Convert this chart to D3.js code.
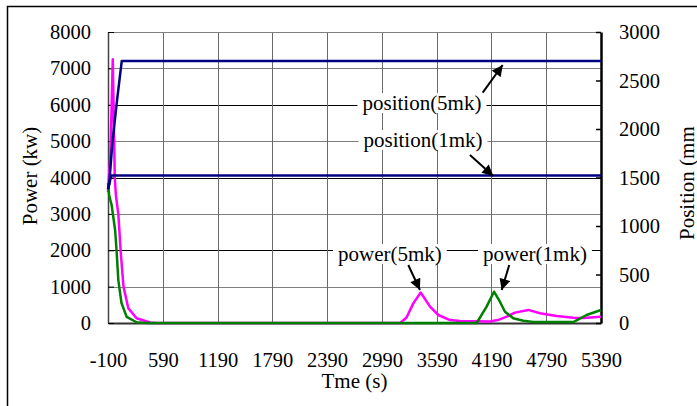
<!DOCTYPE html>
<meta charset="utf-8">
<style>
    body {
        margin: 0;
        background-color: #fff;
    }

    text {
        font-family: "Liberation Serif", "Times New Roman", serif;
        font-size: 21px;
        fill: #000;
    }

    .line {
        fill: none;
        stroke-width: 2.5px;
        stroke-linejoin: round;
    }
</style>

<body>
    <svg width="697" height="406"></svg>
</body>
<script src="https://cdnjs.cloudflare.com/ajax/libs/d3/7.8.5/d3.min.js"></script>
<script>
    // tick labels of the time axis (they are evenly spaced on the chart)
    var timeTicks = [-100, 590, 1190, 1790, 2390, 2990, 3590, 4190, 4790, 5390];
    var powerTicks = [0, 1000, 2000, 3000, 4000, 5000, 6000, 7000, 8000];
    var positionTicks = [0, 500, 1000, 1500, 2000, 2500, 3000];

    // [time (s), power (kw)]
    var power5mk = [
        [-100, 3600], [-70, 4600], [-40, 7250], [-15, 4000], [0, 3500], [30, 3000],
        [60, 1960], [95, 1000], [155, 410], [260, 130], [430, 15], [520, 0],
        [3190, 0], [3260, 150], [3334, 540], [3415, 840], [3517, 450], [3608, 220],
        [3736, 80], [3846, 55], [4028, 45], [4174, 40], [4260, 80], [4357, 175],
        [4448, 285], [4594, 360], [4722, 270], [4904, 190], [5086, 145], [5196, 135],
        [5390, 175]
    ];
    var power1mk = [
        [-100, 3850], [-85, 3500], [-55, 3250], [-10, 2550], [10, 1920], [30, 1180],
        [70, 550], [135, 170], [260, 20], [390, 0],
        [4028, 0], [4137, 450], [4218, 860], [4283, 585], [4338, 310], [4429, 130],
        [4539, 60], [4648, 25], [5086, 25], [5232, 220], [5390, 357]
    ];

    // [time (s), position (mm)]
    var position5mk = [[-100, 1380], [-84, 1440], [-46, 1850], [10, 2270], [73, 2700], [5390, 2700]];
    var position1mk = [[-100, 1380], [-84, 1430], [-60, 1520], [5390, 1520]];

    // callouts: label at [time, power], arrow from [time, power] to [time, power]
    var callouts = [
        { label: "position(5mk)", at: [3429, 5855], from: [4094, 6331], to: [4313, 7093] },
        { label: "position(1mk)", at: [3440, 4838], from: [3955, 4618], to: [4210, 4041] },
        { label: "power(5mk)", at: [3078, 1704], from: [3279, 1594], to: [3407, 907] },
        { label: "power(1mk)", at: [4667, 1704], from: [4385, 1594], to: [4302, 907] }
    ];

    var svg = d3.select("svg"),
        margin = { top: 32, right: 96, bottom: 83, left: 108 },
        width = +svg.attr("width") - margin.left - margin.right,
        height = +svg.attr("height") - margin.top - margin.bottom;

    // outer frame
    svg.append("rect")
        .attr("x", 7.5)
        .attr("y", 6.5)
        .attr("width", 720)
        .attr("height", 420)
        .attr("fill", "none")
        .attr("stroke", "#000")
        .attr("stroke-width", 1.5);

    var x = d3.scaleLinear()
        .domain(timeTicks)
        .range(timeTicks.map(function(d, i) { return i * width / (timeTicks.length - 1); }));
    var y = d3.scaleLinear().domain([0, 8000]).range([height, 0]);
    var y2 = d3.scaleLinear().domain([0, 3000]).range([height, 0]);

    var g = svg.append("g")
        .attr("transform", "translate(" + margin.left + "," + margin.top + ")");

    // grid
    g.append("g").selectAll("line")
        .data(powerTicks.slice(1, -1))
        .enter().append("line")
        .attr("x1", 0).attr("x2", width)
        .attr("y1", function(d) { return Math.round(y(d)) + 0.5; })
        .attr("y2", function(d) { return Math.round(y(d)) + 0.5; })
        .attr("stroke", function(d) { return (d / 1000) % 2 ? "#808080" : "#000"; })
        .attr("stroke-width", 1);

    g.append("g").selectAll("line")
        .data(timeTicks.slice(1, -1))
        .enter().append("line")
        .attr("y1", 0).attr("y2", height)
        .attr("x1", function(d) { return Math.round(x(d)) + 0.5; })
        .attr("x2", function(d) { return Math.round(x(d)) + 0.5; })
        .attr("stroke", "#6a6a6a")
        .attr("stroke-width", 1);

    // top border
    g.append("line")
        .attr("x1", 0).attr("x2", width)
        .attr("y1", 0.5).attr("y2", 0.5)
        .attr("stroke", "#808080");

    var fmt = function(d) { return String(d); };

    // axes
    var xAxis = g.append("g")
        .attr("transform", "translate(0," + height + ")")
        .call(d3.axisBottom(x).tickValues(timeTicks).tickFormat(fmt).tickSize(0).tickPadding(29));
    xAxis.select(".domain").attr("stroke", "#333").attr("stroke-width", 2);

    var yAxis = g.append("g")
        .call(d3.axisLeft(y).tickValues(powerTicks).tickFormat(fmt).tickSizeInner(-6).tickSizeOuter(0).tickPadding(17));
    yAxis.select(".domain").attr("stroke", "#444").attr("stroke-width", 1.5);

    var y2Axis = g.append("g")
        .attr("transform", "translate(" + width + ",0)")
        .call(d3.axisRight(y2).tickValues(positionTicks).tickFormat(fmt).tickSizeInner(-5).tickSizeOuter(0).tickPadding(18));
    y2Axis.select(".domain").attr("stroke", "#000").attr("stroke-width", 2.5);
    y2Axis.selectAll(".tick line").attr("stroke-width", 1.5);

    [xAxis, yAxis, y2Axis].forEach(function(a) {
        a.attr("font-family", "Liberation Serif").attr("font-size", 20);
        a.selectAll("text")
            .style("font-family", "Liberation Serif")
            .style("font-size", "20.5px")
            .attr("fill", "#000");
    });

    // series
    var line = d3.line()
        .x(function(d) { return x(d[0]); })
        .y(function(d) { return y(d[1]); });
    var line2 = d3.line()
        .x(function(d) { return x(d[0]); })
        .y(function(d) { return y2(d[1]); });

    g.append("path").datum(power5mk).attr("class", "line").attr("stroke", "#ff00ff").attr("d", line);
    g.append("path").datum(power1mk).attr("class", "line").attr("stroke", "#008000").attr("d", line);
    g.append("path").datum(position5mk).attr("class", "line").attr("stroke", "#000080").attr("d", line2);
    g.append("path").datum(position1mk).attr("class", "line").attr("stroke", "#000080").attr("d", line2);

    // callouts
    svg.append("defs").append("marker")
        .attr("id", "head")
        .attr("viewBox", "0 0 10 10")
        .attr("refX", 10).attr("refY", 5)
        .attr("markerWidth", 6).attr("markerHeight", 5.5)
        .attr("markerUnits", "strokeWidth")
        .attr("orient", "auto")
        .append("path")
        .attr("d", "M0,0L10,5L0,10Z")
        .attr("fill", "#000");

    var notes = g.append("g").selectAll("g")
        .data(callouts)
        .enter().append("g");

    notes.append("line")
        .attr("x1", function(d) { return x(d.from[0]); })
        .attr("y1", function(d) { return y(d.from[1]); })
        .attr("x2", function(d) { return x(d.to[0]); })
        .attr("y2", function(d) { return y(d.to[1]); })
        .attr("stroke", "#000")
        .attr("stroke-width", 2)
        .attr("marker-end", "url(#head)");

    var labels = notes.append("text")
        .attr("x", function(d) { return x(d.at[0]); })
        .attr("y", function(d) { return y(d.at[1]); })
        .attr("text-anchor", "middle")
        .text(function(d) { return d.label; });

    labels.each(function() {
        var b = this.getBBox();
        d3.select(this.parentNode).insert("rect", "text")
            .attr("x", b.x - 5)
            .attr("y", b.y + 2)
            .attr("width", b.width + 10)
            .attr("height", b.height - 4)
            .attr("fill", "#fff");
    });

    // axis titles
    svg.append("text")
        .attr("transform", "translate(37,176) rotate(-90)")
        .attr("text-anchor", "middle")
        .text("Power (kw)");

    svg.append("text")
        .attr("transform", "translate(694,240) rotate(-90)")
        .attr("text-anchor", "start")
        .text("Position (mm");

    svg.append("text")
        .attr("x", margin.left + width / 2)
        .attr("y", 388)
        .attr("text-anchor", "middle")
        .text("Tme (s)");
</script>
